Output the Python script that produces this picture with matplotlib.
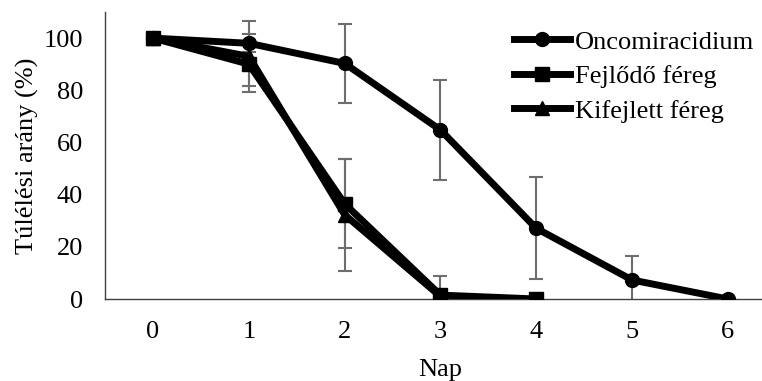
import matplotlib
matplotlib.use("Agg")
import matplotlib.pyplot as plt

days_onco = [0, 1, 2, 3, 4, 5, 6]
onco = [100, 98, 90.3, 64.8, 27.1, 7.3, 0]
onco_err = [0, 3.5, 15, 19.3, 19.5, 9, 0]

days_fej = [0, 1, 2, 3, 4]
fej = [100, 90, 36.5, 1.5, 0]
fej_err = [0, 8.5, 17, 1, 0]

days_kif = [0, 1, 2, 3]
kif = [100, 93, 32.3, 1]
kif_err = [0, 13.5, 21.5, 8]

labels = ["Oncomiracidium", "Fejlődő féreg", "Kifejlett féreg"]
xticks = [0, 1, 2, 3, 4, 5, 6]
yticks = [0, 20, 40, 60, 80, 100]

plt.rcParams['font.family'] = ['Liberation Serif', 'DejaVu Serif']
plt.rcParams['font.size'] = 19

fig = plt.figure(figsize=(7.62, 3.81), dpi=100)
ax = fig.add_axes([0.138, 0.2152, 0.880, 0.7533])

ecol = '#6e6e6e'
series = [(days_onco, onco, onco_err, 'o', 10),
          (days_fej, fej, fej_err, 's', 10),
          (days_kif, kif, kif_err, '^', 10)]
for (x, y, e, m, ms), lab in zip(series, labels):
    ax.errorbar(x, y, yerr=e, fmt='none', ecolor=ecol, elinewidth=1.5,
                capsize=5, capthick=1.5, zorder=2)
for (x, y, e, m, ms), lab in zip(series, labels):
    ax.plot(x, y, color='black', lw=5, marker=m, ms=ms, label=lab, zorder=3)

ax.set_xlim(-0.5, 6.5)
ax.set_ylim(0, 110)
ax.set_xticks(xticks)
ax.set_yticks(yticks)
ax.tick_params(length=0)
ax.tick_params(axis='y', pad=16)
ax.tick_params(axis='x', pad=16)
for s in ['top', 'right']:
    ax.spines[s].set_visible(False)
for s in ['left', 'bottom']:
    ax.spines[s].set_color('#404040')
    ax.spines[s].set_linewidth(1)

ax.set_xlabel('Nap', labelpad=11)
ax.set_ylabel('Túlélési arány (%)', labelpad=3)

leg = ax.legend(loc='upper right', bbox_to_anchor=(0.968, 0.937), frameon=False,
                handlelength=2.1, handletextpad=0.2, labelspacing=0.42,
                borderaxespad=0, borderpad=0)

fig.savefig('out.png', dpi=100)
